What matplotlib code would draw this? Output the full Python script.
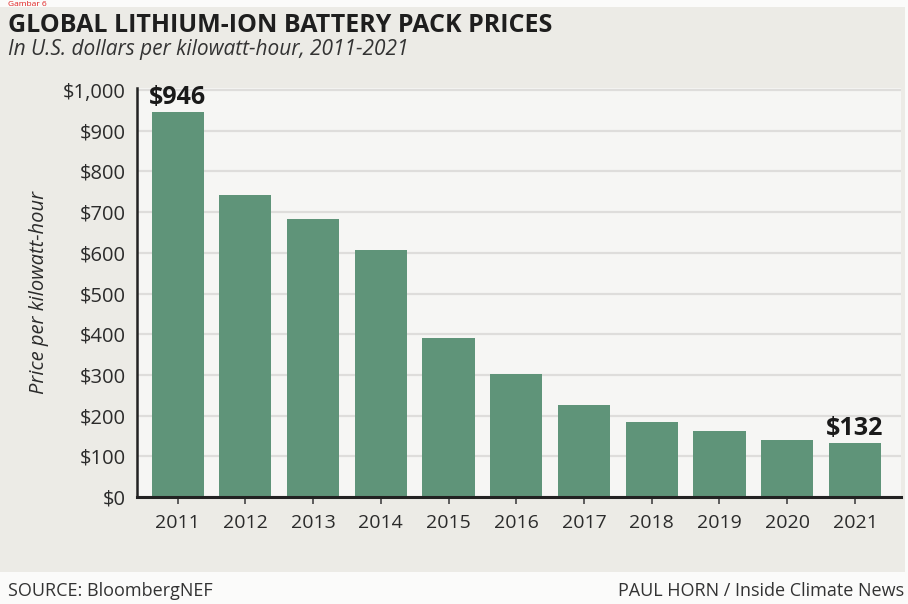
import matplotlib.pyplot as plt
from matplotlib.patches import Rectangle
from matplotlib.ticker import FuncFormatter

years = ['2011', '2012', '2013', '2014', '2015', '2016', '2017', '2018', '2019', '2020', '2021']
prices = [946, 743, 684, 607, 391, 302, 226, 185, 161, 140, 132]
y_ticks = list(range(0, 1001, 100))

bar_color = '#5f9479'
bg_color = '#ecebe6'
plot_color = '#f6f6f4'
text_color = '#2b2b2b'

plt.rcParams['font.family'] = ['Open Sans', 'DejaVu Sans']

fig = plt.figure(figsize=(9.08, 6.04), dpi=100)
fig.patch.set_facecolor('#fbfbfa')
# grey panel behind title and chart, footer stays white
fig.patches.append(Rectangle((0, 1 - 572 / 604), 905 / 908, 572 / 604 - 0.012,
                             transform=fig.transFigure, facecolor=bg_color,
                             edgecolor='none', zorder=-10))

ax = fig.add_axes([137 / 908, 1 - 497 / 604, (901 - 137) / 908, (497 - 88) / 604])
ax.set_facecolor(plot_color)

x = range(len(years))
ax.bar(x, prices, width=0.77, color=bar_color, zorder=3)
ax.set_xlim(-0.6, 10.68)
ax.set_ylim(0, 1005)
ax.set_xticks(list(x))
ax.set_xticklabels(years)
ax.set_yticks(y_ticks)
ax.yaxis.set_major_formatter(FuncFormatter(lambda v, p: f'${int(v):,}'))
ax.grid(axis='y', color='#dedddb', linewidth=1.6, zorder=0)

for side in ['top', 'right']:
    ax.spines[side].set_visible(False)
ax.spines['left'].set_color('#222222')
ax.spines['left'].set_linewidth(1.8)
ax.spines['bottom'].set_color('#222222')
ax.spines['bottom'].set_linewidth(2.2)
ax.spines['bottom'].set_zorder(5)

ax.tick_params(axis='y', length=0, pad=8, labelsize=14.5, labelcolor=text_color)
ax.tick_params(axis='x', length=5, width=1.2, direction='out', color='#444444',
               pad=7, labelsize=14, labelcolor=text_color)

ax.set_ylabel('Price per kilowatt-hour', fontsize=14.5, style='italic',
              color=text_color, labelpad=10)

# value labels on first and last bars
ax.text(0, prices[0] + 6, f'${prices[0]}', ha='center', va='bottom',
        fontsize=18, fontweight='bold', color='#1a1a1a', zorder=6)
ax.text(10, prices[-1] + 6, f'${prices[-1]}', ha='center', va='bottom',
        fontsize=18, fontweight='bold', color='#1a1a1a', zorder=6)

fig.text(8 / 908, 1 - 25 / 604, 'GLOBAL LITHIUM-ION BATTERY PACK PRICES',
         fontsize=18, fontweight='bold', color='#1e1e1e', va='center')
fig.text(8 / 908, 1 - 49 / 604, 'In U.S. dollars per kilowatt-hour, 2011-2021',
         fontsize=15, style='italic', color='#333333', va='center')
fig.text(8 / 908, 1 - 591 / 604, 'SOURCE: BloombergNEF',
         fontsize=13, color='#333333', va='center')
fig.text(904 / 908, 1 - 591 / 604, 'PAUL HORN / Inside Climate News',
         fontsize=13, color='#333333', va='center', ha='right')
fig.text(8 / 908, 0.999, 'Gambar 6', fontsize=6, color='#e02020', va='top')

fig.savefig('out.png', dpi=100, facecolor=fig.get_facecolor())
